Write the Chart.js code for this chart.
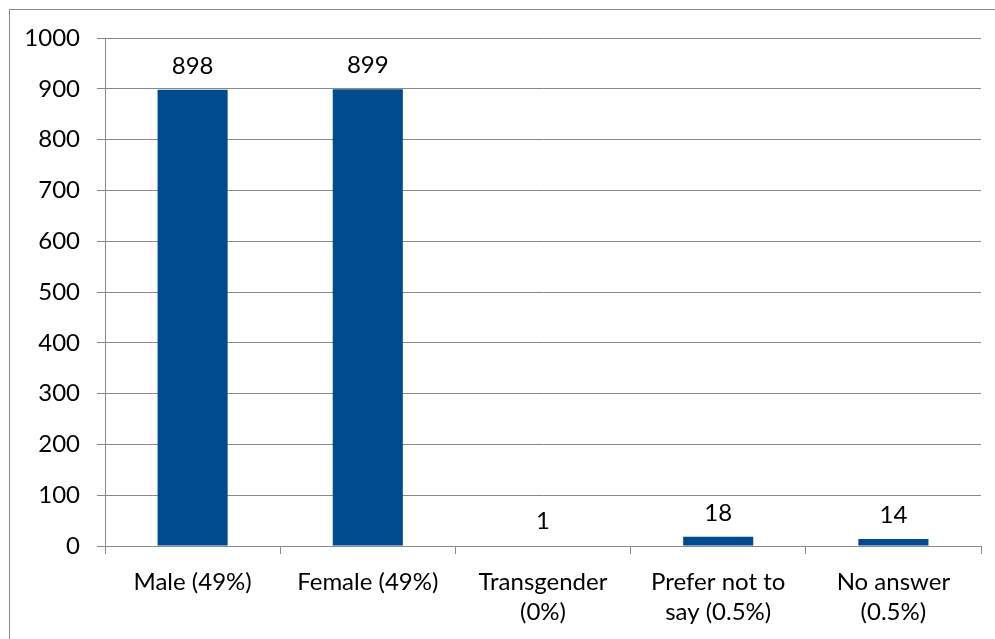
<!DOCTYPE html>
<html lang="en">
<head>
    <meta charset="UTF-8">
    <title>Gender</title>
    <script src="https://cdn.jsdelivr.net/npm/chart.js"></script>
    <style>
        body { margin: 0; background: #fff; }
        canvas { display: block; }
    </style>
</head>
<body>
    <canvas id="myChart" width="995" height="639"></canvas>

    <script>
        // chart data
        var categories = [
            'Male (49%)',
            'Female (49%)',
            ['Transgender', '(0%)'],
            ['Prefer not to', 'say (0.5%)'],
            ['No answer', '(0.5%)']
        ];
        var counts = [898, 899, 1, 18, 14];
        var yMin = 0;
        var yMax = 1000;
        var yStep = 100;

        var fontFamily = 'Lato, "Liberation Sans", sans-serif';
        var fontSize = 24;
        var gridGrey = '#898989';

        // frame around the whole chart + numbers above the bars
        var extras = {
            id: 'extras',
            beforeDraw: function (chart) {
                var c = chart.ctx;
                c.save();
                c.fillStyle = '#fff';
                c.fillRect(0, 0, chart.width, chart.height);
                c.strokeStyle = gridGrey;
                c.lineWidth = 1;
                c.strokeRect(9.5, 9.5, chart.width + 10, chart.height + 10);
                c.restore();
            },
            afterDatasetsDraw: function (chart) {
                var c = chart.ctx;
                var meta = chart.getDatasetMeta(0);
                c.save();
                c.fillStyle = '#000';
                c.font = fontSize + 'px ' + fontFamily;
                c.textAlign = 'center';
                c.textBaseline = 'alphabetic';
                meta.data.forEach(function (bar, i) {
                    c.fillText(String(counts[i]), bar.x, bar.y - 16);
                });
                c.restore();
            }
        };

        var ctx = document.getElementById('myChart').getContext('2d');
        var myChart = new Chart(ctx, {
            type: 'bar',
            data: {
                labels: categories,
                datasets: [{
                    data: counts,
                    backgroundColor: '#004B8D',
                    borderWidth: 0,
                    barPercentage: 0.4,
                    categoryPercentage: 1
                }]
            },
            options: {
                responsive: false,
                animation: false,
                layout: {
                    padding: { left: 0, right: 14, top: 38, bottom: 0 }
                },
                plugins: {
                    legend: { display: false },
                    tooltip: { enabled: false }
                },
                scales: {
                    x: {
                        offset: true,
                        afterFit: function (s) { s.height = 93; },
                        grid: {
                            offset: true,
                            drawOnChartArea: false,
                            drawTicks: true,
                            tickLength: 8,
                            color: gridGrey,
                            lineWidth: 1
                        },
                        border: { display: true, color: gridGrey, width: 1 },
                        ticks: {
                            color: '#000',
                            padding: 13,
                            maxRotation: 0,
                            autoSkip: false,
                            font: { family: fontFamily, size: fontSize, lineHeight: '30px' }
                        }
                    },
                    y: {
                        min: yMin,
                        max: yMax,
                        afterFit: function (s) { s.width = 105; },
                        grid: {
                            color: gridGrey,
                            lineWidth: 1,
                            drawTicks: true,
                            tickLength: 8
                        },
                        border: { display: true, color: gridGrey, width: 1 },
                        ticks: {
                            stepSize: yStep,
                            color: '#000',
                            padding: 17,
                            font: { family: fontFamily, size: fontSize },
                            callback: function (v) { return String(v); }
                        }
                    }
                }
            },
            plugins: [extras]
        });
    </script>
</body>
</html>
